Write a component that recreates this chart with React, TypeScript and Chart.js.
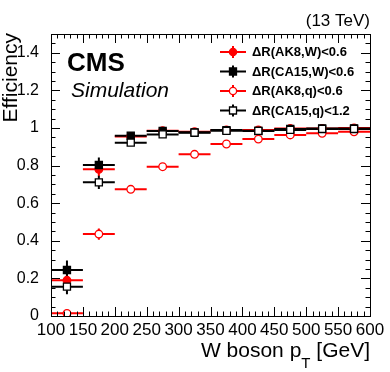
import React, { useEffect, useRef } from 'react';
import { Chart, registerables } from 'chart.js';
Chart.register(...registerables);

const BIN_CENTERS = [125, 175, 225, 275, 325, 375, 425, 475, 525, 575];
const BIN_HALF_WIDTH = 25;

const AK8_W = [0.19, 0.78, 0.955, 0.986, 0.98, 0.99, 0.99, 0.997, 0.998, 1.0];
const AK8_W_ERR = [0.04, 0.035, 0.01, 0.006, 0.005, 0.004, 0.004, 0.003, 0.003, 0.003];
const CA15_W = [0.245, 0.803, 0.959, 0.984, 0.977, 0.989, 0.984, 0.995, 0.998, 0.998];
const CA15_W_ERR = [0.05, 0.04, 0.012, 0.006, 0.005, 0.004, 0.004, 0.003, 0.003, 0.003];
const AK8_Q = [0.014, 0.436, 0.674, 0.794, 0.86, 0.915, 0.941, 0.963, 0.972, 0.98];
const AK8_Q_ERR = [0.006, 0.03, 0.012, 0.008, 0.006, 0.005, 0.005, 0.004, 0.004, 0.004];
const CA15_Q = [0.156, 0.711, 0.922, 0.966, 0.975, 0.985, 0.985, 0.99, 0.995, 0.995];
const CA15_Q_ERR = [0.04, 0.035, 0.012, 0.006, 0.005, 0.004, 0.004, 0.003, 0.003, 0.003];

const LEGEND_LABELS = ['ΔR(AK8,W)<0.6', 'ΔR(CA15,W)<0.6', 'ΔR(AK8,q)<0.6', 'ΔR(CA15,q)<1.2'];
const X_TICKS = [100, 150, 200, 250, 300, 350, 400, 450, 500, 550, 600];
const Y_TICKS = [0, 0.2, 0.4, 0.6, 0.8, 1.0, 1.2, 1.4];

const FONT = '"Liberation Sans", Arial, Helvetica, sans-serif';

const decor = {
  id: 'decor',
  beforeDatasetsDraw(chart: any) {
    const { ctx, scales } = chart;
    const x = scales.x, y = scales.y;
    chart.data.datasets.forEach((ds: any) => {
      ctx.save();
      ctx.strokeStyle = ds.borderColor;
      ctx.lineWidth = 2;
      ds.data.forEach((p: any, j: number) => {
        const px = x.getPixelForValue(p.x);
        const py = y.getPixelForValue(p.y);
        const e = ds.errs[j];
        ctx.beginPath();
        ctx.moveTo(x.getPixelForValue(p.x - BIN_HALF_WIDTH), py);
        ctx.lineTo(x.getPixelForValue(p.x + BIN_HALF_WIDTH), py);
        ctx.moveTo(px, y.getPixelForValue(p.y - e));
        ctx.lineTo(px, y.getPixelForValue(p.y + e));
        ctx.stroke();
      });
      ctx.restore();
    });
  },
  afterDraw(chart: any) {
    const { ctx, chartArea: a, scales } = chart;
    const x = scales.x, y = scales.y;
    ctx.save();
    ctx.strokeStyle = '#000';
    ctx.lineWidth = 1;
    ctx.strokeRect(Math.round(a.left) + 0.5, Math.round(a.top) + 0.5, Math.round(a.right - a.left), Math.round(a.bottom - a.top));
    ctx.beginPath();
    for (let v = 100; v <= 600; v += 10) {
      const px = Math.round(x.getPixelForValue(v)) + 0.5;
      const len = v % 50 === 0 ? 9 : 4.5;
      ctx.moveTo(px, a.bottom); ctx.lineTo(px, a.bottom - len);
      ctx.moveTo(px, a.top); ctx.lineTo(px, a.top + len);
    }
    for (let i = 0; i <= 30; i++) {
      const v = i * 0.05;
      const py = Math.round(y.getPixelForValue(v)) + 0.5;
      const len = i % 4 === 0 ? 9 : 4.5;
      ctx.moveTo(a.left, py); ctx.lineTo(a.left + len, py);
      ctx.moveTo(a.right, py); ctx.lineTo(a.right - len, py);
    }
    ctx.stroke();

    ctx.fillStyle = '#000';
    ctx.font = `17px ${FONT}`;
    ctx.textAlign = 'right';
    ctx.textBaseline = 'alphabetic';
    ctx.fillText('(13 TeV)', 370, 26);
    ctx.textAlign = 'left';
    ctx.font = `bold 26px ${FONT}`;
    ctx.fillText('CMS', 67, 71);
    ctx.font = `italic 21px ${FONT}`;
    ctx.fillText('Simulation', 71, 97);
    ctx.save();
    ctx.translate(17, 33);
    ctx.rotate(-Math.PI / 2);
    ctx.textAlign = 'right';
    ctx.font = `21px ${FONT}`;
    ctx.fillText('Efficiency', 0, 0);
    ctx.restore();
    const part1 = 'W boson p';
    const part3 = ' [GeV]';
    ctx.font = `21px ${FONT}`;
    const w1 = ctx.measureText(part1).width;
    const w3 = ctx.measureText(part3).width;
    ctx.font = `15px ${FONT}`;
    const w2 = ctx.measureText('T').width;
    const start = 370 - w1 - w2 - w3;
    ctx.font = `21px ${FONT}`;
    ctx.fillText(part1, start, 357);
    ctx.fillText(part3, start + w1 + w2, 357);
    ctx.font = `15px ${FONT}`;
    ctx.fillText('T', start + w1, 368);

    const ys = [52, 71.5, 91, 110.5];
    chart.data.datasets.forEach((ds: any, i: number) => {
      const cy = ys[i];
      ctx.strokeStyle = ds.borderColor;
      ctx.lineWidth = 2;
      ctx.beginPath();
      ctx.moveTo(220, cy); ctx.lineTo(246, cy);
      ctx.moveTo(233, cy - 6); ctx.lineTo(233, cy + 6);
      ctx.stroke();
      ctx.lineWidth = 1.3;
      ctx.fillStyle = ds.backgroundColor;
      ctx.beginPath();
      if (ds.pointStyle === 'rect') {
        ctx.rect(233 - 3.5, cy - 3.5, 7, 7);
      } else {
        ctx.arc(233, cy, 3.6, 0, Math.PI * 2);
      }
      ctx.fill();
      ctx.stroke();
      ctx.fillStyle = '#000';
      ctx.font = `bold 13px ${FONT}`;
      ctx.textAlign = 'left';
      ctx.textBaseline = 'middle';
      ctx.fillText(LEGEND_LABELS[i], 252, cy + 0.5);
    });
    ctx.restore();
  },
};

function mk(vals: number[], errs: number[], color: string, filled: boolean, style: string, order: number) {
  return {
    label: '',
    data: vals.map((v, i) => ({ x: BIN_CENTERS[i], y: v })),
    errs,
    borderColor: color,
    backgroundColor: filled ? color : '#ffffff',
    pointStyle: style,
    pointRadius: style === 'rect' ? 5 : 3.8,
    pointHoverRadius: style === 'rect' ? 5 : 3.8,
    pointBorderWidth: 1.3,
    showLine: false,
    order,
  };
}

export default function App() {
  const ref = useRef<HTMLCanvasElement>(null);
  useEffect(() => {
    document.body.style.margin = '0';
    const chart = new Chart(ref.current!, {
      type: 'scatter',
      data: {
        datasets: [
          mk(AK8_W, AK8_W_ERR, '#ff0000', true, 'circle', 3),
          mk(CA15_W, CA15_W_ERR, '#000000', true, 'rect', 2),
          mk(AK8_Q, AK8_Q_ERR, '#ff0000', false, 'circle', 1),
          mk(CA15_Q, CA15_Q_ERR, '#000000', false, 'rect', 0),
        ] as any,
      },
      options: {
        animation: false,
        responsive: false,
        devicePixelRatio: 1,
        layout: { padding: { top: 34, right: 20, left: 0, bottom: 0 } },
        plugins: { legend: { display: false }, tooltip: { enabled: false } },
        scales: {
          x: {
            type: 'linear',
            min: 100,
            max: 600,
            grid: { display: false },
            border: { display: false },
            afterBuildTicks: (s: any) => { s.ticks = X_TICKS.map((v) => ({ value: v })); },
            afterFit: (s: any) => { s.height = 56; },
            ticks: {
              autoSkip: false,
              maxRotation: 0,
              padding: -4,
              color: '#000',
              font: { family: FONT, size: 17 },
              callback: (v: any) => String(v),
            },
          },
          y: {
            type: 'linear',
            min: 0,
            max: 1.5,
            grid: { display: false },
            border: { display: false },
            afterBuildTicks: (s: any) => { s.ticks = Y_TICKS.map((v) => ({ value: v })); },
            afterFit: (s: any) => { s.width = 51; },
            ticks: {
              autoSkip: false,
              padding: 4,
              color: '#000',
              font: { family: FONT, size: 16 },
              callback: (v: any) => String(+Number(v).toFixed(1)),
            },
          },
        },
      },
      plugins: [decor],
    });
    return () => chart.destroy();
  }, []);
  return (
    <div style={{ position: 'absolute', left: 0, top: 0, width: 390, height: 372, background: '#fff' }}>
      <canvas ref={ref} width={390} height={372} />
    </div>
  );
}
